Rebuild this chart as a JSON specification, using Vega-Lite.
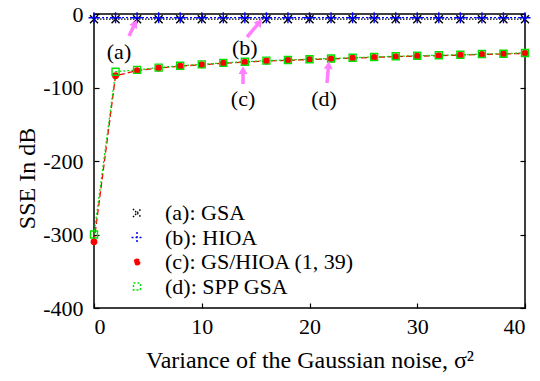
{
  "$schema": "https://vega.github.io/schema/vega-lite/v6.json",
  "width": 431,
  "height": 294,
  "autosize": {"type": "none"},
  "padding": {"left": 94, "top": 14, "right": 15, "bottom": 73},
  "config": {
    "font": "Liberation Serif",
    "view": {"stroke": "black", "strokeWidth": 1.5},
    "axis": {"grid": false, "domain": false, "tickColor": "black", "tickSize": -5, "tickWidth": 1.2, "labelFont": "Liberation Serif", "labelFontSize": 22, "labelColor": "black", "titleFont": "Liberation Serif", "titleFontSize": 24, "titleFontWeight": "normal", "titleColor": "black", "labelExpr": "'' + datum.value"},
    "legend": {
      "title": null, "orient": "none", "legendX": 32, "legendY": 188, "padding": 0,
      "labelFont": "Liberation Serif", "labelFontSize": 22, "labelColor": "black", "labelOffset": 17,
      "symbolSize": 100, "rowPadding": 2.5, "labelLimit": 400
    }
  },
  "datasets": {
    "series": [
      {"s": "(a): GSA", "x": 0, "y": -7}, {"s": "(a): GSA", "x": 2, "y": -7}, {"s": "(a): GSA", "x": 4, "y": -7}, {"s": "(a): GSA", "x": 6, "y": -7}, {"s": "(a): GSA", "x": 8, "y": -7}, {"s": "(a): GSA", "x": 10, "y": -7}, {"s": "(a): GSA", "x": 12, "y": -7}, {"s": "(a): GSA", "x": 14, "y": -7}, {"s": "(a): GSA", "x": 16, "y": -7}, {"s": "(a): GSA", "x": 18, "y": -7}, {"s": "(a): GSA", "x": 20, "y": -7}, {"s": "(a): GSA", "x": 22, "y": -7}, {"s": "(a): GSA", "x": 24, "y": -7}, {"s": "(a): GSA", "x": 26, "y": -7}, {"s": "(a): GSA", "x": 28, "y": -7}, {"s": "(a): GSA", "x": 30, "y": -7}, {"s": "(a): GSA", "x": 32, "y": -7}, {"s": "(a): GSA", "x": 34, "y": -7}, {"s": "(a): GSA", "x": 36, "y": -7}, {"s": "(a): GSA", "x": 38, "y": -7}, {"s": "(a): GSA", "x": 40, "y": -7},
      {"s": "(b): HIOA", "x": 0, "y": -5}, {"s": "(b): HIOA", "x": 2, "y": -5}, {"s": "(b): HIOA", "x": 4, "y": -5}, {"s": "(b): HIOA", "x": 6, "y": -5}, {"s": "(b): HIOA", "x": 8, "y": -5}, {"s": "(b): HIOA", "x": 10, "y": -5}, {"s": "(b): HIOA", "x": 12, "y": -5}, {"s": "(b): HIOA", "x": 14, "y": -5}, {"s": "(b): HIOA", "x": 16, "y": -5}, {"s": "(b): HIOA", "x": 18, "y": -5}, {"s": "(b): HIOA", "x": 20, "y": -5}, {"s": "(b): HIOA", "x": 22, "y": -5}, {"s": "(b): HIOA", "x": 24, "y": -5}, {"s": "(b): HIOA", "x": 26, "y": -5}, {"s": "(b): HIOA", "x": 28, "y": -5}, {"s": "(b): HIOA", "x": 30, "y": -5}, {"s": "(b): HIOA", "x": 32, "y": -5}, {"s": "(b): HIOA", "x": 34, "y": -5}, {"s": "(b): HIOA", "x": 36, "y": -5}, {"s": "(b): HIOA", "x": 38, "y": -5}, {"s": "(b): HIOA", "x": 40, "y": -5},
      {"s": "(c): GS/HIOA (1, 39)", "x": 0, "y": -310}, {"s": "(c): GS/HIOA (1, 39)", "x": 2, "y": -84}, {"s": "(c): GS/HIOA (1, 39)", "x": 4, "y": -77}, {"s": "(c): GS/HIOA (1, 39)", "x": 6, "y": -73.5}, {"s": "(c): GS/HIOA (1, 39)", "x": 8, "y": -71}, {"s": "(c): GS/HIOA (1, 39)", "x": 10, "y": -69}, {"s": "(c): GS/HIOA (1, 39)", "x": 12, "y": -67}, {"s": "(c): GS/HIOA (1, 39)", "x": 14, "y": -65.5}, {"s": "(c): GS/HIOA (1, 39)", "x": 16, "y": -64}, {"s": "(c): GS/HIOA (1, 39)", "x": 18, "y": -63}, {"s": "(c): GS/HIOA (1, 39)", "x": 20, "y": -62}, {"s": "(c): GS/HIOA (1, 39)", "x": 22, "y": -61}, {"s": "(c): GS/HIOA (1, 39)", "x": 24, "y": -60}, {"s": "(c): GS/HIOA (1, 39)", "x": 26, "y": -59}, {"s": "(c): GS/HIOA (1, 39)", "x": 28, "y": -58}, {"s": "(c): GS/HIOA (1, 39)", "x": 30, "y": -57.3}, {"s": "(c): GS/HIOA (1, 39)", "x": 32, "y": -56.7}, {"s": "(c): GS/HIOA (1, 39)", "x": 34, "y": -56}, {"s": "(c): GS/HIOA (1, 39)", "x": 36, "y": -55}, {"s": "(c): GS/HIOA (1, 39)", "x": 38, "y": -54.5}, {"s": "(c): GS/HIOA (1, 39)", "x": 40, "y": -53.5},
      {"s": "(d): SPP GSA", "x": 0, "y": -300}, {"s": "(d): SPP GSA", "x": 2, "y": -78.5}, {"s": "(d): SPP GSA", "x": 4, "y": -76}, {"s": "(d): SPP GSA", "x": 6, "y": -73}, {"s": "(d): SPP GSA", "x": 8, "y": -70.5}, {"s": "(d): SPP GSA", "x": 10, "y": -68.5}, {"s": "(d): SPP GSA", "x": 12, "y": -66.5}, {"s": "(d): SPP GSA", "x": 14, "y": -65}, {"s": "(d): SPP GSA", "x": 16, "y": -63.5}, {"s": "(d): SPP GSA", "x": 18, "y": -62.5}, {"s": "(d): SPP GSA", "x": 20, "y": -61.5}, {"s": "(d): SPP GSA", "x": 22, "y": -60.5}, {"s": "(d): SPP GSA", "x": 24, "y": -59.5}, {"s": "(d): SPP GSA", "x": 26, "y": -58.5}, {"s": "(d): SPP GSA", "x": 28, "y": -57.5}, {"s": "(d): SPP GSA", "x": 30, "y": -56.8}, {"s": "(d): SPP GSA", "x": 32, "y": -56.2}, {"s": "(d): SPP GSA", "x": 34, "y": -55.5}, {"s": "(d): SPP GSA", "x": 36, "y": -54.5}, {"s": "(d): SPP GSA", "x": 38, "y": -54}, {"s": "(d): SPP GSA", "x": 40, "y": -53}
    ],
    "notes": [
      {"t": "(a)", "lx": 2.32, "ly": -51.7, "tx": 3.25, "ty": -29.9, "hx": 3.81, "hy": -12.9, "ang": 28},
      {"t": "(b)", "lx": 14.0, "ly": -46.3, "tx": 14.2, "ty": -31.3, "hx": 15.37, "hy": -11.1, "ang": 38},
      {"t": "(c)", "lx": 13.83, "ly": -115.6, "tx": 13.83, "ty": -95.2, "hx": 13.83, "hy": -76.2, "ang": 0},
      {"t": "(d)", "lx": 21.35, "ly": -115.6, "tx": 21.62, "ty": -93.9, "hx": 21.77, "hy": -69.4, "ang": 5}
    ]
  },
  "resolve": {"axis": {"x": "independent", "y": "independent"}},
  "layer": [
    {
      "data": {"name": "series"},
      "mark": {"type": "line", "strokeWidth": 1.3},
      "encoding": {
        "x": {"field": "x", "type": "quantitative", "scale": {"domain": [0, 40], "nice": false}, "axis": {"orient": "bottom", "values": [0, 10, 20, 30, 40], "title": "Variance of the Gaussian noise, σ²", "labelPadding": 13, "titleY": 52, "titleBaseline": "middle"}},
        "y": {"field": "y", "type": "quantitative", "scale": {"domain": [-400, 0], "nice": false}, "axis": {"orient": "left", "values": [-400, -300, -200, -100, 0], "title": "SSE In dB", "labelPadding": 16, "titleX": -67, "titleY": 164, "titleAngle": -90, "titleBaseline": "middle", "titleAlign": "center"}},
        "detail": {"field": "s", "type": "nominal"},
        "stroke": {"field": "s", "type": "nominal", "scale": {"domain": ["(a): GSA", "(b): HIOA", "(c): GS/HIOA (1, 39)", "(d): SPP GSA"], "range": ["#000000", "#0000ff", "#ff0000", "#00e000"]}, "legend": {}},
        "strokeDash": {"field": "s", "type": "nominal", "legend": null, "scale": {"domain": ["(a): GSA", "(b): HIOA", "(c): GS/HIOA (1, 39)", "(d): SPP GSA"], "range": [[1.5, 1.5], [2, 2], [6, 3], [2, 2]]}}
      }
    },
    {
      "data": {"name": "series"},
      "mark": {"type": "point", "filled": false, "size": 100, "strokeWidth": 1.4, "opacity": 1},
      "encoding": {
        "x": {"field": "x", "type": "quantitative", "axis": {"orient": "top", "values": [0, 10, 20, 30, 40], "labels": false, "title": null}},
        "y": {"field": "y", "type": "quantitative", "axis": {"orient": "right", "values": [-400, -300, -200, -100, 0], "labels": false, "title": null}},
        "shape": {"field": "s", "type": "nominal", "legend": null, "scale": {"domain": ["(a): GSA", "(b): HIOA", "(c): GS/HIOA (1, 39)", "(d): SPP GSA"], "range": ["M-0.8,-0.8L0.8,0.8M-0.8,0.8L0.8,-0.8", "M-1.1,0L1.1,0M0,-1.1L0,1.1", "M0.55,0A0.55,0.55 0 1,1 -0.55,0A0.55,0.55 0 1,1 0.55,0Z", "M-0.7,-0.7L0.7,-0.7L0.7,0.7L-0.7,0.7Z"]}},
        "fill": {"field": "s", "type": "nominal", "legend": null, "scale": {"domain": ["(a): GSA", "(b): HIOA", "(c): GS/HIOA (1, 39)", "(d): SPP GSA"], "range": ["transparent", "transparent", "#ff0000", "transparent"]}},
        "stroke": {"field": "s", "type": "nominal"}
      }
    },
    {
      "data": {"name": "notes"},
      "mark": {"type": "rule", "color": "#ff7fff", "strokeWidth": 3.5},
      "encoding": {
        "x": {"field": "tx", "type": "quantitative", "axis": null},
        "y": {"field": "ty", "type": "quantitative", "axis": null},
        "x2": {"field": "hx"},
        "y2": {"field": "hy"}
      }
    },
    {
      "data": {"name": "notes"},
      "mark": {"type": "point", "shape": "triangle-up", "filled": true, "color": "#ff7fff", "size": 80, "opacity": 1},
      "encoding": {
        "x": {"field": "hx", "type": "quantitative", "axis": null},
        "y": {"field": "hy", "type": "quantitative", "axis": null},
        "angle": {"field": "ang", "type": "quantitative", "scale": null}
      }
    },
    {
      "data": {"name": "notes"},
      "mark": {"type": "text", "font": "Liberation Serif", "fontSize": 22, "color": "black", "align": "center", "baseline": "middle"},
      "encoding": {
        "x": {"field": "lx", "type": "quantitative", "axis": null},
        "y": {"field": "ly", "type": "quantitative", "axis": null},
        "text": {"field": "t"}
      }
    }
  ]
}
